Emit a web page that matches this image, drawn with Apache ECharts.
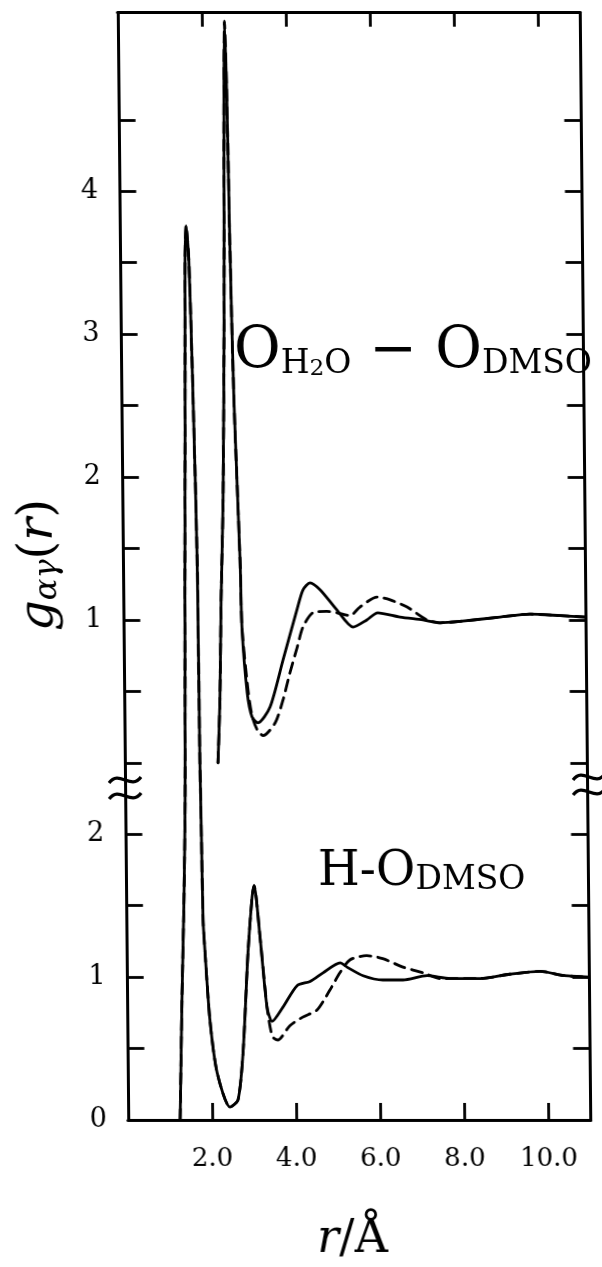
<!DOCTYPE html>
<html>
<head>
<meta charset="utf-8">
<script src="https://cdn.jsdelivr.net/npm/echarts@6/dist/echarts.min.js"></script>
<style>
  html, body { margin: 0; padding: 0; background: #fff; }
  /* the printed frame leans slightly to the right */
  #chart { width: 602px; height: 1267px; transform: skewX(0.543deg); transform-origin: 301px 566px; }
</style>
</head>
<body>
<div id="chart"></div>
<script>
// H–O(DMSO) pair distribution, lower panel (r in Å)
const hoSolidR = [1.24, 1.31, 1.38, 1.43, 1.47, 1.52, 1.55, 1.58, 1.64, 1.71, 1.77, 1.79, 1.81, 1.83, 1.87, 1.97, 2.13, 2.43, 2.62, 2.75, 2.89, 3.00, 3.05, 3.18, 3.33, 3.45, 3.71, 4.05, 4.36, 4.67, 5.08, 5.24, 5.62, 6.09, 6.57, 7.14, 7.69, 8.40, 9.11, 9.83, 10.40, 11.00];
const hoSolidG = [0.00, 0.84, 1.54, 2.24, 3.64, 5.04, 6.02, 6.26, 6.02, 5.04, 3.92, 2.52, 1.96, 1.40, 1.17, 0.70, 0.33, 0.09, 0.14, 0.47, 1.17, 1.56, 1.64, 1.28, 0.79, 0.69, 0.79, 0.94, 0.97, 1.03, 1.10, 1.07, 1.01, 0.98, 0.98, 1.01, 0.99, 0.99, 1.02, 1.04, 1.01, 1.00];
const hoDashR = [1.24, 1.31, 1.38, 1.43, 1.47, 1.52, 1.55, 1.58, 1.64, 1.71, 1.77, 1.79, 1.81, 1.83, 1.87, 1.97, 2.13, 2.43, 2.62, 2.75, 2.89, 3.00, 3.05, 3.18, 3.33, 3.40, 3.46, 3.58, 3.87, 4.18, 4.52, 4.83, 5.07, 5.31, 5.71, 6.09, 6.57, 7.05, 7.45, 8.40, 9.11, 9.83, 10.40, 11.00];
const hoDashG = [0.00, 0.84, 1.54, 2.24, 3.64, 5.04, 6.02, 6.26, 6.02, 5.04, 3.92, 2.52, 1.96, 1.40, 1.17, 0.70, 0.33, 0.09, 0.14, 0.47, 1.17, 1.56, 1.64, 1.28, 0.79, 0.65, 0.58, 0.56, 0.66, 0.72, 0.77, 0.91, 1.03, 1.12, 1.15, 1.13, 1.07, 1.03, 0.99, 0.99, 1.02, 1.04, 1.01, 1.00];

// O(H2O)–O(DMSO) pair distribution, upper panel
const ooSolidR = [2.22, 2.28, 2.33, 2.40, 2.47, 2.51, 2.54, 2.58, 2.62, 2.68, 2.79, 2.82, 2.93, 3.04, 3.18, 3.47, 3.79, 4.13, 4.28, 4.45, 4.69, 5.08, 5.46, 5.79, 6.05, 6.58, 7.12, 7.53, 8.01, 8.96, 9.67, 10.39, 11.00];
const ooSolidG = [0.00, 0.44, 1.14, 1.84, 3.24, 4.64, 5.19, 4.64, 3.59, 2.54, 1.42, 0.95, 0.49, 0.32, 0.28, 0.39, 0.72, 1.07, 1.21, 1.26, 1.21, 1.07, 0.95, 1.00, 1.05, 1.02, 1.00, 0.98, 0.99, 1.02, 1.04, 1.03, 1.02];
const ooDashR = [2.22, 2.28, 2.33, 2.40, 2.47, 2.51, 2.54, 2.58, 2.62, 2.68, 2.79, 2.82, 2.95, 3.04, 3.16, 3.30, 3.59, 3.78, 3.95, 4.13, 4.27, 4.51, 4.84, 5.08, 5.39, 5.63, 6.04, 6.35, 6.75, 7.22, 7.53, 8.01, 8.96, 9.67, 10.39, 11.00];
const ooDashG = [0.00, 0.44, 1.14, 1.84, 3.24, 4.64, 5.19, 4.64, 3.59, 2.54, 1.42, 0.95, 0.51, 0.33, 0.23, 0.19, 0.28, 0.44, 0.63, 0.81, 0.95, 1.05, 1.06, 1.05, 1.03, 1.09, 1.16, 1.14, 1.09, 1.00, 0.98, 0.99, 1.02, 1.04, 1.03, 1.02];

// axis ticks and labels
const xTicks = [2, 4, 6, 8, 10];
const lowerTicks = [0.5, 1, 1.5, 2];
const upperTicks = [0, 0.5, 1, 1.5, 2, 2.5, 3, 3.5, 4, 4.5];
const lowerLabels = [0, 1, 2];
const upperLabels = [1, 2, 3, 4];

// the upper panel's zero sits at 2.5 on the shared vertical scale
const UPPER_SHIFT = 2.5;
const Y_MAX = 7.75;

const FONT = 'DejaVu Serif';
const INK = '#000';

const pairs = (xs, ys, shift) => xs.map((x, i) => [x, ys[i] + shift]);

const yTickValues = lowerTicks.concat(upperTicks.map(v => v + UPPER_SHIFT));
const yLabelValues = lowerLabels.concat(upperLabels.map(v => v + UPPER_SHIFT));

const axisLine = { show: true, onZero: false, lineStyle: { color: INK, width: 3 } };

function lineSeries(data, dashed, z) {
  return {
    type: 'line',
    data: data,
    showSymbol: false,
    symbol: 'none',
    smooth: 0.25,
    z: z,
    lineStyle: { color: INK, width: 2.8, type: dashed ? [11, 7] : 'solid', cap: 'round', join: 'round' },
    emphasis: { disabled: true }
  };
}

function tilde(cx, cy) {
  return {
    type: 'bezierCurve',
    shape: { x1: cx - 16, y1: cy + 3, cpx1: cx - 6, cpy1: cy - 11, cpx2: cx + 6, cpy2: cy + 11, x2: cx + 16, y2: cy - 3 },
    style: { stroke: INK, lineWidth: 3.2, fill: null },
    z: 10
  };
}

const chart = echarts.init(document.getElementById('chart'), null, { renderer: 'canvas' });

chart.setOption({
  animation: false,
  backgroundColor: '#fff',
  grid: { left: 122.75, right: 16.5, top: 12.7, bottom: 147, containLabel: false },
  xAxis: [
    {
      type: 'value', min: 0, max: 11, position: 'bottom',
      axisLine: axisLine,
      axisTick: { show: true, inside: true, length: 17, customValues: xTicks, lineStyle: { color: INK, width: 2.8 } },
      axisLabel: { show: true, customValues: xTicks, formatter: v => v.toFixed(1), color: INK, fontFamily: FONT, fontSize: 26, margin: 26 },
      splitLine: { show: false }
    },
    {
      type: 'value', min: 0, max: 11, position: 'top',
      axisLine: axisLine,
      axisTick: { show: true, inside: true, length: 14, customValues: xTicks, lineStyle: { color: INK, width: 2.8 } },
      axisLabel: { show: false },
      splitLine: { show: false }
    }
  ],
  yAxis: [
    {
      type: 'value', min: 0, max: Y_MAX, position: 'left',
      axisLine: axisLine,
      axisTick: { show: true, inside: true, length: 17, customValues: yTickValues, lineStyle: { color: INK, width: 2.8 } },
      axisLabel: {
        show: true, customValues: yLabelValues,
        formatter: v => String(v > UPPER_SHIFT ? v - UPPER_SHIFT : v),
        color: INK, fontFamily: FONT, fontSize: 27, margin: 21
      },
      splitLine: { show: false }
    },
    {
      type: 'value', min: 0, max: Y_MAX, position: 'right',
      axisLine: axisLine,
      axisTick: { show: true, inside: true, length: 17, customValues: yTickValues, lineStyle: { color: INK, width: 2.8 } },
      axisLabel: { show: false },
      splitLine: { show: false }
    }
  ],
  series: [
    lineSeries(pairs(hoDashR, hoDashG, 0), true, 2),
    lineSeries(pairs(hoSolidR, hoSolidG, 0), false, 3),
    lineSeries(pairs(ooDashR, ooDashG, UPPER_SHIFT), true, 2),
    lineSeries(pairs(ooSolidR, ooSolidG, UPPER_SHIFT), false, 3)
  ],
  graphic: [
    // panel names
    {
      type: 'text', x: 236, y: 380.6, z: 20,
      style: {
        text: '{b|O}{s|H}{n|2}{s|O}{b| − O}{s|DMSO}',
        align: 'left', verticalAlign: 'bottom',
        rich: {
          b: { fontFamily: FONT, fontSize: 57, lineHeight: 57, verticalAlign: 'bottom', fill: INK },
          s: { fontFamily: FONT, fontSize: 33, lineHeight: 39, verticalAlign: 'bottom', fill: INK },
          n: { fontFamily: FONT, fontSize: 23, lineHeight: 20, verticalAlign: 'bottom', fill: INK }
        }
      }
    },
    {
      type: 'text', x: 315, y: 897, z: 20,
      style: {
        text: '{b|H-O}{s|DMSO}',
        align: 'left', verticalAlign: 'bottom',
        rich: {
          b: { fontFamily: FONT, fontSize: 48, lineHeight: 48, verticalAlign: 'bottom', fill: INK },
          s: { fontFamily: FONT, fontSize: 33, lineHeight: 22, verticalAlign: 'bottom', fill: INK }
        }
      }
    },
    // axis names
    {
      type: 'text', x: 40, y: 565, rotation: Math.PI / 2, z: 20,
      style: {
        text: '{g|g}{s|αγ}{p|(}{g|r}{p|)}',
        align: 'center', verticalAlign: 'middle',
        rich: {
          g: { fontFamily: FONT, fontStyle: 'italic', fontSize: 48, lineHeight: 48, verticalAlign: 'bottom', fill: INK },
          s: { fontFamily: FONT, fontStyle: 'italic', fontSize: 32, lineHeight: 22, verticalAlign: 'bottom', fill: INK },
          p: { fontFamily: FONT, fontSize: 48, lineHeight: 48, verticalAlign: 'bottom', fill: INK }
        }
      }
    },
    {
      type: 'text', x: 346, y: 1238, z: 20,
      style: {
        text: '{r|r}{n|/Å}',
        align: 'center', verticalAlign: 'middle',
        rich: {
          r: { fontFamily: FONT, fontStyle: 'italic', fontSize: 46, lineHeight: 50, verticalAlign: 'bottom', fill: INK },
          n: { fontFamily: FONT, fontSize: 46, lineHeight: 50, verticalAlign: 'bottom', fill: INK }
        }
      }
    },
    // axis-break marks
    tilde(123, 780), tilde(123, 796),
    tilde(587, 777), tilde(587, 792)
  ]
});
</script>
</body>
</html>
